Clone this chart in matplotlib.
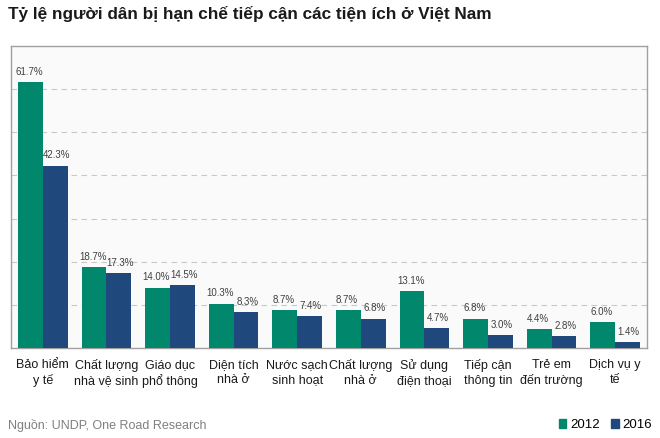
import matplotlib
matplotlib.use("Agg")
import matplotlib.pyplot as plt
from matplotlib.patches import Patch
import numpy as np

plt.rcParams['font.family'] = ['Liberation Sans', 'DejaVu Sans']

categories = ["Bảo hiểm\ny tế", "Chất lượng\nnhà vệ sinh", "Giáo dục\nphổ thông",
              "Diện tích\nnhà ở", "Nước sạch\nsinh hoạt", "Chất lượng\nnhà ở",
              "Sử dụng\nđiện thoại", "Tiếp cận\nthông tin", "Trẻ em\nđến trường",
              "Dịch vụ y\ntế"]
v2012 = [61.7, 18.7, 14.0, 10.3, 8.7, 8.7, 13.1, 6.8, 4.4, 6.0]
v2016 = [42.3, 17.3, 14.5, 8.3, 7.4, 6.8, 4.7, 3.0, 2.8, 1.4]
series_names = ["2012", "2016"]

green = "#00876c"
blue = "#1f497d"

fig = plt.figure(figsize=(6.6, 4.38), dpi=100)
ax = fig.add_axes([11/660, 1-348/438, 636/660, 302/438])
ax.set_facecolor("#fafafa")

x = np.arange(len(categories))
w = 0.39
b1 = ax.bar(x - w/2, v2012, w, color=green, zorder=3)
b2 = ax.bar(x + w/2, v2016, w, color=blue, zorder=3)

for rect, v in zip(b1, v2012):
    ax.text(rect.get_x() + rect.get_width()/2 - 0.02, v + 1.2, f"{v:.1f}%", ha="center",
            va="bottom", fontsize=7, color="#404040", zorder=4)
for rect, v in zip(b2, v2016):
    ax.text(rect.get_x() + rect.get_width()/2 + 0.02, v + 1.2, f"{v:.1f}%", ha="center",
            va="bottom", fontsize=7, color="#404040", zorder=4)

ax.set_xlim(-0.5, len(categories) - 0.5)
ax.set_ylim(0, 70)
ax.set_yticks(np.arange(10, 70, 10))
ax.yaxis.grid(True, linestyle=(0, (5, 4)), color="#c8c8c8", linewidth=0.8, zorder=0)
ax.tick_params(axis="y", left=False, labelleft=False)
ax.set_xticks(x)
ax.set_xticklabels(categories, fontsize=9, color="#1a1a1a", linespacing=1.3)
ax.tick_params(axis="x", length=0, pad=8)
for s in ax.spines.values():
    s.set_color("#a0a0a0")
    s.set_linewidth(1.0)

fig.text(8/660, 1-14/438, "Tỷ lệ người dân bị hạn chế tiếp cận các tiện ích ở Việt Nam",
         fontsize=12.4, fontweight="bold", va="center", ha="left", color="#1a1a1a")
fig.text(8/660, 1-425/438, "Nguồn: UNDP, One Road Research", fontsize=9,
         color="#808080", va="center", ha="left")

handles = [Patch(color=green), Patch(color=blue)]
fig.legend(handles, series_names, loc="center right", bbox_to_anchor=(660/660, 1-425/438),
           frameon=False, fontsize=9.5, handlelength=0.6, handleheight=0.6,
           handletextpad=0.3, columnspacing=0.8, ncol=2, borderaxespad=0.2)

fig.savefig("out.png", dpi=100)
